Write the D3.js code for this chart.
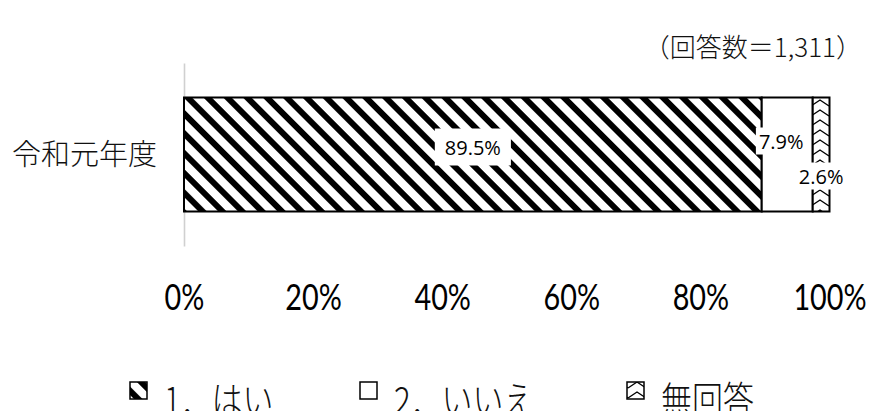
<!DOCTYPE html>
<html>
<head>
<meta charset="utf-8">
<script src="https://cdn.jsdelivr.net/npm/d3@7"></script>
<style>
  html, body { margin: 0; padding: 0; background: #fff; }
  svg { display: block; }
</style>
</head>
<body>
<svg id="chart" width="874" height="411"></svg>
<script>
// Survey answers, share of respondents (%)
const categories = ["令和元年度"];
const seriesNames = ["1．はい", "2．いいえ", "無回答"];
const seriesValues = [[89.5], [7.9], [2.6]];
const tickValues = [0, 20, 40, 60, 80, 100];
const respondentCount = "（回答数＝1,311）";

const svg = d3.select("#chart");

const x = d3.scaleLinear().domain([0, 100]).range([184, 829.5]);
const y = d3.scaleBand().domain(categories).range([63, 246]).paddingInner(0).paddingOuter(0.3026);

// Fill patterns
const defs = svg.append("defs");
const hatch = defs.append("pattern")
  .attr("id", "hatch").attr("patternUnits", "userSpaceOnUse")
  .attr("width", 14).attr("height", 14)
  .attr("patternTransform", "translate(184,98) rotate(-45)");
hatch.append("rect").attr("width", 14).attr("height", 14).attr("fill", "#fff");
hatch.append("rect").attr("x", 0).attr("width", 6).attr("height", 14).attr("fill", "#000");

const zig = defs.append("pattern")
  .attr("id", "zig").attr("patternUnits", "userSpaceOnUse")
  .attr("width", 18).attr("height", 10)
  .attr("patternTransform", "translate(811,98)");
zig.append("rect").attr("width", 18).attr("height", 10).attr("fill", "#fff");
zig.append("path").attr("d", "M0,8 L9,2 L18,8").attr("fill", "none")
  .attr("stroke", "#000").attr("stroke-width", 1.4);

const fills = ["url(#hatch)", "#fff", "url(#zig)"];

// Category axis line
const yAxis = svg.append("g").attr("transform", "translate(184,0)")
  .call(d3.axisLeft(y).tickSize(0).tickFormat(""));
yAxis.select(".domain").attr("stroke", "#d0d0d0").attr("stroke-width", 1.6);

// Stacked segments
const stacked = [];
categories.forEach((c, ci) => {
  let acc = 0;
  seriesValues.forEach((vals, si) => {
    stacked.push({ cat: c, s: si, x0: acc, x1: acc + vals[ci], v: vals[ci] });
    acc += vals[ci];
  });
});

svg.append("g").selectAll("rect").data(stacked).join("rect")
  .attr("x", d => x(d.x0))
  .attr("y", d => y(d.cat))
  .attr("width", d => x(d.x1) - x(d.x0))
  .attr("height", y.bandwidth())
  .attr("fill", d => fills[d.s])
  .attr("stroke", "#000").attr("stroke-width", 2);

// Value labels with white boxes
const labelOffsets = [[0, -7], [-6, -13], [0, 22]];
const lab = svg.append("g").selectAll("g").data(stacked).join("g")
  .attr("transform", d => {
    const cx = (x(d.x0) + x(d.x1)) / 2 + labelOffsets[d.s][0];
    const cy = y(d.cat) + y.bandwidth() / 2 + labelOffsets[d.s][1];
    return `translate(${cx},${cy})`;
  });
lab.append("text")
  .attr("text-anchor", "middle").attr("dy", "0.35em")
  .style("font-family", "'Open Sans', 'Noto Sans', sans-serif")
  .style("font-size", "20px").attr("fill", "#000")
  .text(d => d.v.toFixed(1) + "%");
lab.each(function(d) {
  const g = d3.select(this);
  const bb = g.select("text").node().getBBox();
  const padX = d.s === 0 ? 10 : 3, padY = d.s === 0 ? 5 : 0;
  g.insert("rect", "text")
    .attr("x", bb.x - padX).attr("y", bb.y - padY)
    .attr("width", bb.width + 2 * padX).attr("height", bb.height + 2 * padY)
    .attr("fill", "#fff");
});

// Percentage axis
const xAxis = svg.append("g").attr("transform", "translate(0,297)")
  .call(d3.axisBottom(x).tickValues(tickValues).tickSize(0).tickPadding(0)
    .tickFormat(d => d + "%"));
xAxis.select(".domain").remove();
xAxis.selectAll("text")
  .attr("y", 0).attr("dy", "0.36em")
  .attr("transform", "scale(0.8,1)")
  .style("font-family", "Lato, 'Open Sans', sans-serif")
  .style("font-size", "36px").attr("fill", "#000");

// Category label
svg.append("text")
  .attr("x", 157).attr("y", y(categories[0]) + y.bandwidth() / 2)
  .attr("dy", "0.36em").attr("text-anchor", "end")
  .style("font-family", "'Noto Sans CJK JP', sans-serif")
  .style("font-size", "29px").style("font-weight", 300).attr("fill", "#111")
  .text(categories[0]);

// Respondent count
svg.append("text")
  .attr("x", 862).attr("y", 48).attr("dy", "0.36em").attr("text-anchor", "end")
  .style("font-family", "'Noto Sans CJK JP', sans-serif")
  .style("font-size", "26px").style("font-weight", 300).attr("fill", "#111")
  .text(respondentCount);

// Legend
const legendX = [130, 360, 627];
const leg = svg.append("g").selectAll("g").data(seriesNames).join("g")
  .attr("transform", (d, i) => `translate(${legendX[i]},382)`);
leg.append("rect")
  .attr("width", 17).attr("height", 17)
  .attr("fill", (d, i) => fills[i])
  .attr("stroke", "#000").attr("stroke-width", 1.5);
leg.append("text")
  .attr("transform", "translate(34,32) scale(1,1.2)")
  .style("font-family", "'Noto Sans CJK JP', sans-serif")
  .style("font-size", "31px").style("font-weight", 300).attr("fill", "#111")
  .text(d => d);
</script>
</body>
</html>
